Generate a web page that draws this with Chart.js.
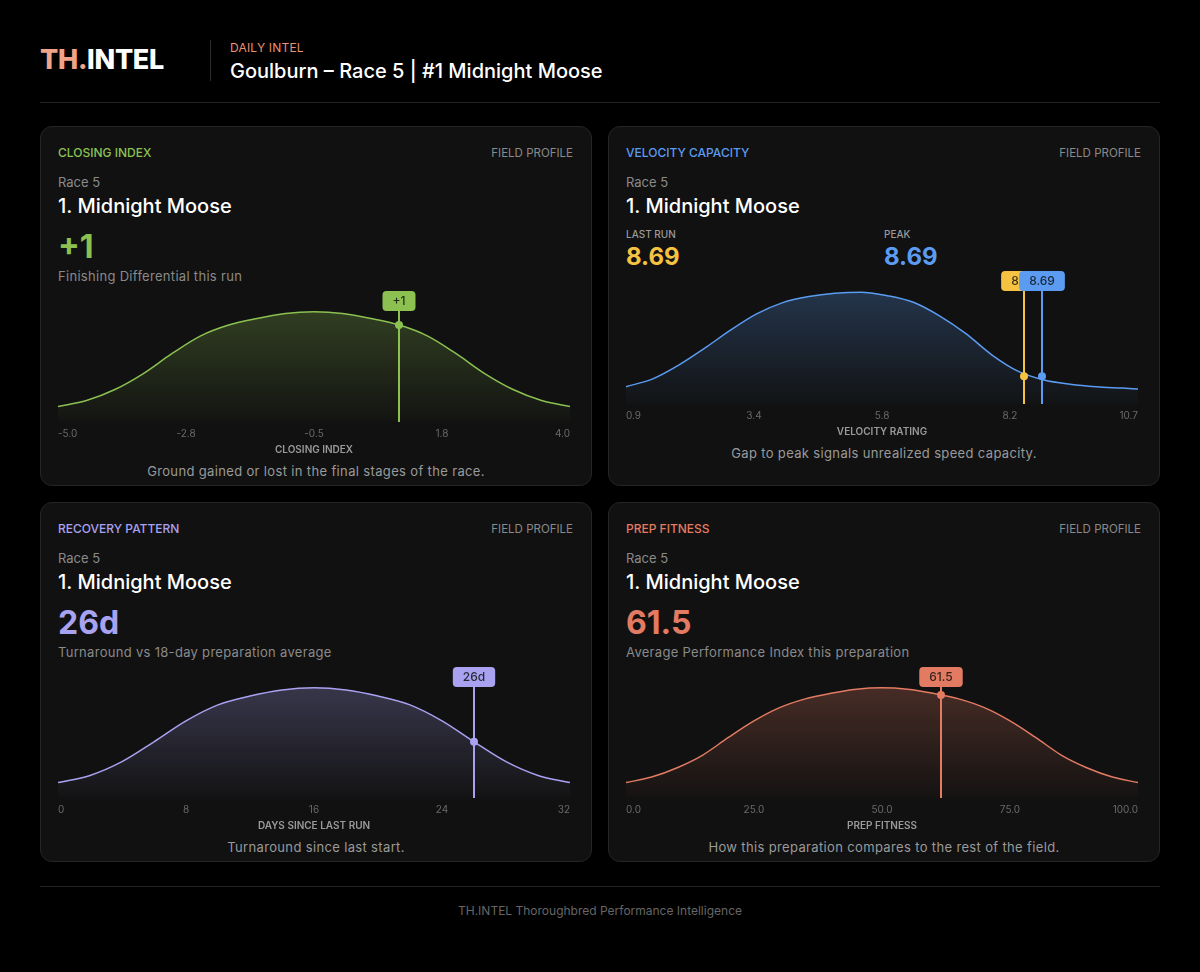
<!DOCTYPE html>
<html>
<head>
<meta charset="utf-8">
<title>TH.INTEL Daily Intel</title>
<script src="https://cdn.jsdelivr.net/npm/chart.js@4.4.1/dist/chart.umd.min.js"></script>
<style>
  * { box-sizing: border-box; margin: 0; padding: 0; }
  body { width: 1200px; height: 972px; background: #000; color: #fff; font-family: Inter, 'Noto Sans', sans-serif; position: relative; overflow: hidden; }
  .header { position: absolute; left: 40px; top: 0; width: 1120px; height: 103px; border-bottom: 1px solid #242424; }
  .logo { position: absolute; left: 0; top: 44px; font-size: 27px; line-height: 32px; font-weight: 800; letter-spacing: -0.3px; }
  .logo span { color: #f0a386; }
  .divider { position: absolute; left: 170px; top: 40px; width: 1px; height: 41px; background: #2c2c2c; }
  .kicker { position: absolute; left: 190px; top: 41px; font-size: 12px; line-height: 14px; color: #ea9272; letter-spacing: 0.2px; }
  .title { position: absolute; left: 190px; top: 59px; font-size: 20px; line-height: 24px; font-weight: 500; }
  .card { position: absolute; width: 552px; height: 360px; background: #111; border: 1px solid #252525; border-radius: 12px; }
  .tag { position: absolute; left: 17px; top: 18.5px; font-size: 12px; line-height: 14px; font-weight: 500; }
  .field { position: absolute; right: 18px; top: 18.5px; font-size: 11.5px; line-height: 14px; font-weight: 400; color: #8a8a8a; }
  .race { position: absolute; left: 17px; top: 46.5px; font-size: 13px; line-height: 16px; color: #8a8a8a; }
  .name { position: absolute; left: 17px; top: 66.5px; font-size: 20px; line-height: 24px; font-weight: 500; }
  .big { position: absolute; left: 17px; top: 100.5px; font-size: 32px; line-height: 38px; font-weight: 700; }
  .sub { position: absolute; left: 17px; top: 140.5px; font-size: 13px; line-height: 16px; color: #8a8a8a; letter-spacing: 0.3px; }
  .stat { position: absolute; top: 101px; }
  .stat .lbl { font-size: 10px; line-height: 12px; font-weight: 500; color: #9a9a9a; }
  .stat .val { font-size: 24px; line-height: 28px; font-weight: 700; margin-top: 3px; }
  /* canvas is 6px wider each side: chart.js pads the x axis by the tick padding */
  .plot { position: absolute; left: 11px; width: 524px; top: 159px; height: 174px; }
  .caption { position: absolute; left: 0; width: 100%; top: 336px; text-align: center; font-size: 13px; line-height: 16px; color: #9a9a9a; letter-spacing: 0.35px; }
  .footer { position: absolute; left: 40px; top: 886px; width: 1120px; border-top: 1px solid #242424; text-align: center; font-size: 12px; line-height: 16px; color: #666; padding-top: 16px; }
</style>
</head>
<body>
  <div class="header">
    <div class="logo"><span>TH.</span>INTEL</div>
    <div class="divider"></div>
    <div class="kicker">DAILY INTEL</div>
    <div class="title">Goulburn – Race 5 | #1 Midnight Moose</div>
  </div>

  <div class="card" style="left:40px; top:126px;">
    <div class="tag" style="color:#8cc152;">CLOSING INDEX</div>
    <div class="field">FIELD PROFILE</div>
    <div class="race">Race 5</div>
    <div class="name">1. Midnight Moose</div>
    <div class="big" style="color:#8cc152;">+1</div>
    <div class="sub">Finishing Differential this run</div>
    <div class="plot"><canvas id="closing-chart"></canvas></div>
    <div class="caption">Ground gained or lost in the final stages of the race.</div>
  </div>

  <div class="card" style="left:608px; top:126px;">
    <div class="tag" style="color:#5b9cf2;">VELOCITY CAPACITY</div>
    <div class="field">FIELD PROFILE</div>
    <div class="race">Race 5</div>
    <div class="name">1. Midnight Moose</div>
    <div class="stat" style="left:17px;"><div class="lbl">LAST RUN</div><div class="val" style="color:#f5c242;">8.69</div></div>
    <div class="stat" style="left:275px;"><div class="lbl">PEAK</div><div class="val" style="color:#5b9cf2;">8.69</div></div>
    <div class="plot" style="top:139px; height:176px;"><canvas id="velocity-chart"></canvas></div>
    <div class="caption" style="top:318px;">Gap to peak signals unrealized speed capacity.</div>
  </div>

  <div class="card" style="left:40px; top:502px;">
    <div class="tag" style="color:#a8a2f0;">RECOVERY PATTERN</div>
    <div class="field">FIELD PROFILE</div>
    <div class="race">Race 5</div>
    <div class="name">1. Midnight Moose</div>
    <div class="big" style="color:#a8a2f0;">26d</div>
    <div class="sub">Turnaround vs 18-day preparation average</div>
    <div class="plot"><canvas id="days-chart"></canvas></div>
    <div class="caption">Turnaround since last start.</div>
  </div>

  <div class="card" style="left:608px; top:502px;">
    <div class="tag" style="color:#e27b62;">PREP FITNESS</div>
    <div class="field">FIELD PROFILE</div>
    <div class="race">Race 5</div>
    <div class="name">1. Midnight Moose</div>
    <div class="big" style="color:#e27b62;">61.5</div>
    <div class="sub">Average Performance Index this preparation</div>
    <div class="plot"><canvas id="prep-chart"></canvas></div>
    <div class="caption">How this preparation compares to the rest of the field.</div>
  </div>

  <div class="footer">TH.INTEL Thoroughbred Performance Intelligence</div>

<script>
// field distributions (relative density)
const closingX = [-5.0, -4.5, -4.0, -3.5, -3.0, -2.5, -2.0, -1.5, -1.0, -0.5, 0.0, 0.5, 1.0, 1.5, 2.0, 2.5, 3.0, 3.5, 4.0];
const closingDensity = [0.14, 0.195, 0.295, 0.44, 0.62, 0.78, 0.88, 0.94, 0.985, 1.0, 0.985, 0.94, 0.88, 0.78, 0.62, 0.44, 0.295, 0.195, 0.14];
const closingTicks = [-5.0, -2.75, -0.5, 1.75, 4.0];
const closingTickLabels = ['-5.0', '-2.8', '-0.5', '1.8', '4.0'];
const closingRun = 1;

const velocityX = [0.9, 1.4, 1.9, 2.4, 2.9, 3.4, 3.9, 4.4, 4.9, 5.4, 5.9, 6.4, 6.9, 7.4, 7.9, 8.4, 8.9, 9.4, 9.9, 10.4, 10.7];
const velocityDensity = [0.155, 0.222, 0.345, 0.497, 0.66, 0.805, 0.906, 0.96, 0.99, 1.0, 0.968, 0.909, 0.788, 0.631, 0.44, 0.294, 0.215, 0.177, 0.154, 0.142, 0.134];
const velocityTicks = [0.9, 3.35, 5.8, 8.25, 10.7];
const velocityTickLabels = ['0.9', '3.4', '5.8', '8.2', '10.7'];
const velocityLastRun = 8.69;
const velocityPeak = 8.69;

const daysX = [0, 2, 4, 6, 8, 10, 12, 14, 16, 18, 20, 22, 24, 26, 28, 30, 32];
const daysDensity = [0.14, 0.205, 0.33, 0.51, 0.70, 0.845, 0.925, 0.98, 1.0, 0.98, 0.925, 0.845, 0.70, 0.51, 0.33, 0.205, 0.14];
const daysTicks = [0, 8, 16, 24, 32];
const daysTickLabels = ['0', '8', '16', '24', '32'];
const daysSinceRun = 26;

const prepX = [0, 5, 10, 15, 20, 25, 30, 35, 40, 45, 50, 55, 60, 65, 70, 75, 80, 85, 90, 95, 100];
const prepDensity = [0.14, 0.19, 0.275, 0.39, 0.55, 0.70, 0.82, 0.90, 0.95, 0.987, 1.0, 0.987, 0.95, 0.90, 0.82, 0.70, 0.55, 0.39, 0.275, 0.19, 0.14];
const prepTicks = [0, 25, 50, 75, 100];
const prepTickLabels = ['0.0', '25.0', '50.0', '75.0', '100.0'];
const prepFitness = 61.5;

Chart.defaults.font.family = 'Inter, "Noto Sans", sans-serif';

const rgba = (hex, a) => {
  const n = parseInt(hex.slice(1), 16);
  return `rgba(${(n >> 16) & 255},${(n >> 8) & 255},${n & 255},${a})`;
};

// y on the drawn curve at pixel x
const curveYAt = (points, px) => {
  for (let i = 0; i < points.length - 1; i++) {
    const a = points[i], b = points[i + 1];
    if (px >= a.x && px <= b.x) return a.y + (b.y - a.y) * (px - a.x) / (b.x - a.x);
  }
  return points[points.length - 1].y;
};

const markerPlugin = {
  id: 'marker',
  afterDatasetsDraw(chart, args, opts) {
    const { ctx, chartArea, scales } = chart;
    const points = chart.getDatasetMeta(0).data;
    ctx.save();
    (opts.items || []).forEach(item => {
      const base = scales.x.getPixelForValue(item.value);
      const x = Math.round(base + (item.dx || 0));
      const y = curveYAt(points, base);
      ctx.font = '500 12px Inter';
      const w = ctx.measureText(item.label).width + 20;
      const h = 20;
      const top = chartArea.top - 1;

      ctx.strokeStyle = item.color;
      ctx.lineWidth = 2;
      ctx.beginPath();
      ctx.moveTo(x, top + h);
      ctx.lineTo(x, chartArea.bottom);
      ctx.stroke();

      ctx.fillStyle = item.color;
      ctx.beginPath();
      ctx.arc(x, y, 4, 0, Math.PI * 2);
      ctx.fill();

      ctx.beginPath();
      ctx.roundRect(x - w / 2, top, w, h, 4);
      ctx.fill();

      ctx.fillStyle = 'rgba(12,12,12,0.82)';
      ctx.textAlign = 'center';
      ctx.textBaseline = 'middle';
      ctx.fillText(item.label, x, top + h / 2 + 0.5);
    });
    ctx.restore();
  }
};

const renderDensityChart = (id, cfg) => {
  const ctx = document.getElementById(id)?.getContext('2d');
  if (!ctx) return;
  return new Chart(ctx, {
    type: 'line',
    data: {
      datasets: [{
        data: cfg.xs.map((x, i) => ({ x, y: cfg.ys[i] })),
        borderColor: cfg.color,
        borderWidth: 1.5,
        pointRadius: 0,
        pointHoverRadius: 0,
        cubicInterpolationMode: 'monotone',
        fill: 'origin',
        backgroundColor: context => {
          const area = context.chart.chartArea;
          if (!area) return rgba(cfg.color, 0.15);
          const g = context.chart.ctx.createLinearGradient(0, area.top, 0, area.bottom);
          g.addColorStop(0, rgba(cfg.color, 0.3));
          g.addColorStop(1, rgba(cfg.color, 0.02));
          return g;
        }
      }]
    },
    options: {
      responsive: true,
      maintainAspectRatio: false,
      animation: false,
      events: [],
      layout: { autoPadding: false, padding: { top: 6, left: 0, right: 0, bottom: 0 } },
      plugins: {
        legend: { display: false },
        tooltip: { enabled: false },
        marker: { items: cfg.markers }
      },
      scales: {
        x: {
          type: 'linear',
          min: cfg.ticks[0],
          max: cfg.ticks[cfg.ticks.length - 1],
          afterBuildTicks: axis => { axis.ticks = cfg.ticks.map(v => ({ value: v })); },
          grid: { display: false, drawTicks: false },
          border: { display: false },
          ticks: {
            autoSkip: false,
            maxRotation: 0,
            align: 'inner',
            padding: 6,
            color: '#6a6a6a',
            font: { size: 10 },
            callback: (value, index) => cfg.tickLabels[index]
          },
          title: {
            display: true,
            text: cfg.title,
            color: '#9a9a9a',
            font: { size: 10, weight: '600' },
            padding: { top: -2, bottom: 4 }
          }
        },
        y: { display: false, min: 0, max: 1.18 }
      }
    },
    plugins: [markerPlugin]
  });
};

renderDensityChart('closing-chart', {
  xs: closingX, ys: closingDensity, ticks: closingTicks, tickLabels: closingTickLabels,
  color: '#8cc152', title: 'CLOSING INDEX',
  markers: [{ value: closingRun, label: '+1', color: '#8cc152' }]
});

renderDensityChart('velocity-chart', {
  xs: velocityX, ys: velocityDensity, ticks: velocityTicks, tickLabels: velocityTickLabels,
  color: '#5b9cf2', title: 'VELOCITY RATING',
  markers: [
    { value: velocityLastRun, label: velocityLastRun.toFixed(2), color: '#f5c242', dx: -9 },
    { value: velocityPeak, label: velocityPeak.toFixed(2), color: '#5b9cf2', dx: 9 }
  ]
});

renderDensityChart('days-chart', {
  xs: daysX, ys: daysDensity, ticks: daysTicks, tickLabels: daysTickLabels,
  color: '#a8a2f0', title: 'DAYS SINCE LAST RUN',
  markers: [{ value: daysSinceRun, label: `${daysSinceRun}d`, color: '#a8a2f0' }]
});

renderDensityChart('prep-chart', {
  xs: prepX, ys: prepDensity, ticks: prepTicks, tickLabels: prepTickLabels,
  color: '#e27b62', title: 'PREP FITNESS',
  markers: [{ value: prepFitness, label: prepFitness.toFixed(1), color: '#e27b62' }]
});
</script>
</body>
</html>
